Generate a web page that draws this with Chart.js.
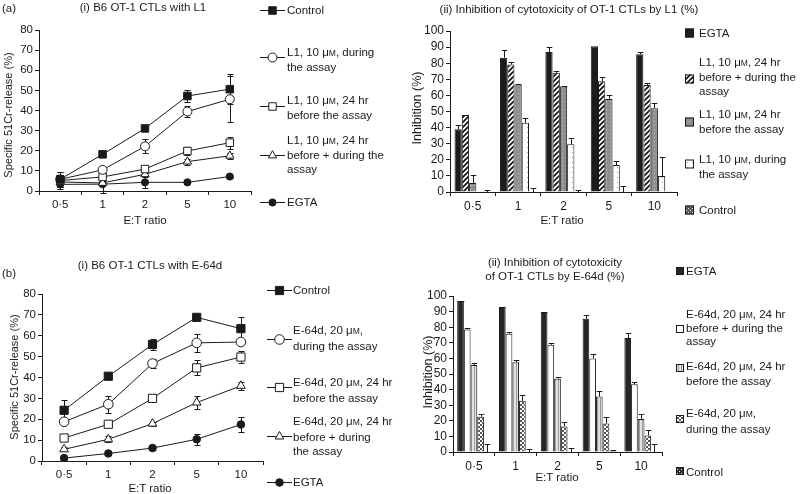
<!DOCTYPE html>
<html lang="en">
<head>
<meta charset="UTF-8">
<title>OT-1 CTL cytotoxicity</title>
<script src="https://cdn.jsdelivr.net/npm/chart.js@4"></script>
<style>
  body { margin: 0; background: #fff; }
  #fig { position: relative; width: 800px; height: 494px; overflow: hidden;
         font-family: 'Liberation Sans', Arial, Helvetica, sans-serif; color: #1a1a1a; }
  #fig canvas { position: absolute; }
  .t { position: absolute; white-space: nowrap; font-size: 11.5px; line-height: 14px; }
  .c { transform: translateX(-50%); text-align: center; }
  .v { transform: translate(-50%, -50%) rotate(-90deg); }
  .b .t { line-height: 14.5px; }
  .sc { font-size: 8.5px; }
</style>
</head>
<body>
<div id="fig">
  <canvas id="legendIcons" width="800" height="494" style="left:0;top:0"></canvas>
  <canvas id="chartA1" width="262" height="200" style="left:0;top:20px"></canvas>
  <canvas id="chartA2" width="280" height="200" style="left:405px;top:20px"></canvas>
  <canvas id="chartB1" width="275" height="200" style="left:0;top:285px"></canvas>
  <canvas id="chartB2" width="270" height="185" style="left:405px;top:285px"></canvas>

  <!-- panel (a) texts -->
  <div class="t" style="left:2px;top:1px">(a)</div>
  <div class="t c" style="left:143px;top:0px">(i) B6 OT-1 CTLs with L1</div>
  <div class="t v" style="left:8px;top:115px;font-size:11px">Specific 51Cr-release (%)</div>
  <div class="t c" style="left:145px;top:213px;font-size:11.5px">E:T ratio</div>

  <div class="t" style="left:287px;top:3px">Control</div>
  <div class="t" style="left:287px;top:45px">L1, 10 μ<span class="sc">M</span>, during<br>the assay</div>
  <div class="t" style="left:287px;top:93px">L1, 10 μ<span class="sc">M</span>, 24 hr<br>before the assay</div>
  <div class="t" style="left:287px;top:133px">L1, 10 μ<span class="sc">M</span>, 24 hr<br>before + during the<br>assay</div>
  <div class="t" style="left:287px;top:195px">EGTA</div>

  <div class="t c" style="left:569px;top:2px">(ii) Inhibition of cytotoxicity of OT-1 CTLs by L1 (%)</div>
  <div class="t v" style="left:417px;top:108px;font-size:12.5px">Inhibition (%)</div>
  <div class="t c" style="left:562px;top:213px">E:T ratio</div>

  <div class="t" style="left:699px;top:26px">EGTA</div>
  <div class="t" style="left:699px;top:55px">L1, 10 μ<span class="sc">M</span>, 24 hr<br>before + during the<br>assay</div>
  <div class="t" style="left:699px;top:107px">L1, 10 μ<span class="sc">M</span>, 24 hr<br>before the assay</div>
  <div class="t" style="left:699px;top:152px">L1, 10 μ<span class="sc">M</span>, during<br>the assay</div>
  <div class="t" style="left:699px;top:203px">Control</div>

  <!-- panel (b) texts -->
  <div class="b">
    <div class="t" style="left:2px;top:266px">(b)</div>
    <div class="t c" style="left:150px;top:258px">(i) B6 OT-1 CTLs with E-64d</div>
    <div class="t v" style="left:14px;top:377px;font-size:11px">Specific 51Cr-release (%)</div>
    <div class="t c" style="left:150px;top:481px">E:T ratio</div>

    <div class="t" style="left:293px;top:283px">Control</div>
    <div class="t" style="left:293px;top:323px">E-64d, 20 μ<span class="sc">M</span>,<br>during the assay</div>
    <div class="t" style="left:293px;top:375px">E-64d, 20 μ<span class="sc">M</span>, 24 hr<br>before the assay</div>
    <div class="t" style="left:293px;top:414px">E-64d, 20 μ<span class="sc">M</span>, 24 hr<br>before + during<br>the assay</div>
    <div class="t" style="left:293px;top:475px">EGTA</div>

    <div class="t c" style="left:555px;top:255px;line-height:14px">(ii) Inhibition of cytotoxicity<br>of OT-1 CTLs by E-64d (%)</div>
    <div class="t v" style="left:428px;top:372px;font-size:12.5px">Inhibition (%)</div>
    <div class="t c" style="left:557px;top:470px">E:T ratio</div>

    <div class="t" style="left:686px;top:264px">EGTA</div>
    <div class="t" style="left:686px;top:308px;line-height:13px">E-64d, 20 μ<span class="sc">M</span>, 24 hr<br>before + during the<br>assay</div>
    <div class="t" style="left:686px;top:360px;line-height:13.5px">E-64d, 20 μ<span class="sc">M</span>, 24 hr<br>before the assay</div>
    <div class="t" style="left:686px;top:406px">E-64d, 20 μ<span class="sc">M</span>,<br>during the assay</div>
    <div class="t" style="left:686px;top:465px">Control</div>
  </div>
</div>

<script>
// ---- data ----
const ratios = ['0·5', '1', '2', '5', '10'];

// (a)(i) specific 51Cr release, L1
const a1Control    = [5.8, 18.2, 31.1, 47.2, 50.6];
const a1ControlErr = [3.8, 1, 1, 3, 7.5];
const a1During     = [5.8, 10.5, 22.2, 39.5, 45.6];
const a1DuringErr  = [3.8, 1.5, 3.5, 2.5, 11.5];
const a1Before     = [5.2, 7, 10.9, 19.9, 24];
const a1BeforeErr  = [2, 1.5, 1.5, 2, 3];
const a1Both       = [4.5, 4, 8.3, 14.6, 17.5];
const a1BothErr    = [1.5, 1, 1.5, 1.5, 1.5];
const a1Egta       = [3.3, 3.4, 4.3, 4.3, 7.2];
const a1EgtaErr    = [2.5, 4.5, 3, 0.5, 0.5];

// (a)(ii) inhibition, L1
const a2Egta       = [38.9, 83.4, 87, 90.5, 85.6];
const a2EgtaErr    = [2.7, 4.5, 3, 0, 1.5];
const a2Both       = [47.8, 79.2, 74, 68.8, 66.5];
const a2BothErr    = [0.3, 1.5, 1, 2.6, 1.3];
const a2Before     = [5.6, 66.8, 65.6, 57.8, 52];
const a2BeforeErr  = [5, 0.3, 0.3, 2.7, 3.3];
const a2During     = [0, 43, 29.6, 16.8, 10];
const a2DuringErr  = [0, 2.8, 3.7, 2.7, 12];
const a2Control    = [0, 0, 0, 0, 0.4];
const a2ControlErr = [1.2, 2.3, 1.5, 4, 0];

// (b)(i) specific 51Cr release, E-64d
const b1Control    = [24.3, 40.6, 55.8, 68.8, 63.4];
const b1ControlErr = [4.8, 1, 2.5, 1, 5.5];
const b1During     = [18.8, 27.2, 46.7, 56.6, 57];
const b1DuringErr  = [1, 4, 2, 4.3, 1];
const b1Before     = [11, 17.6, 30, 44.6, 49.8];
const b1BeforeErr  = [1, 1, 1, 3.6, 3];
const b1Both       = [5.6, 10.4, 17.9, 28, 36];
const b1BothErr    = [1, 1.5, 1, 3, 1.8];
const b1Egta       = [1.4, 3.6, 6.2, 10.4, 17.5];
const b1EgtaErr    = [0.5, 0.5, 0.8, 2.5, 3.5];

// (b)(ii) inhibition, E-64d
const b2Egta       = [96.8, 92.9, 89.7, 85.4, 73];
const b2EgtaErr    = [0.3, 0.3, 0.3, 2.2, 3];
const b2Both       = [78.5, 75.8, 68.7, 60, 43.4];
const b2BothErr    = [0.8, 1.3, 1.3, 2.8, 1.3];
const b2Before     = [55.8, 57.6, 47, 35.6, 21.2];
const b2BeforeErr  = [1, 1.5, 0.8, 3.7, 3.2];
const b2During     = [22.6, 32.8, 16.3, 18.2, 10.6];
const b2DuringErr  = [1.5, 4, 3.2, 4.3, 3.6];
const b2Control    = [0, 0, 0, 1, 0];
const b2ControlErr = [5.3, 2, 2.7, 0.3, 5.3];

// ---- setup ----
const INK = '#1a1a1a';
Chart.defaults.font.family = "'Liberation Sans', Arial, Helvetica, sans-serif";
Chart.defaults.color = INK;
Chart.defaults.animation = false;
Chart.defaults.plugins.legend.display = false;
Chart.defaults.plugins.tooltip.enabled = false;

// fill patterns
function makePattern(size, draw) {
    const c = document.createElement('canvas');
    c.width = c.height = size;
    const g = c.getContext('2d');
    draw(g, size);
    return g.createPattern(c, 'repeat');
}
const hatchA = makePattern(5, (g, s) => {
    g.fillStyle = '#fff'; g.fillRect(0, 0, s, s);
    g.strokeStyle = '#111'; g.lineWidth = 1.7;
    g.beginPath();
    g.moveTo(0, s); g.lineTo(s, 0);
    g.moveTo(-1, 1); g.lineTo(1, -1);
    g.moveTo(s - 1, s + 1); g.lineTo(s + 1, s - 1);
    g.stroke();
});
const greyDotsA = makePattern(4, (g, s) => {
    g.fillStyle = '#8e8e8e'; g.fillRect(0, 0, s, s);
    g.fillStyle = '#c4c4c4'; g.fillRect(1, 1, 1, 1);
});
const whiteDotsA = makePattern(5, (g, s) => {
    g.fillStyle = '#fff'; g.fillRect(0, 0, s, s);
    g.fillStyle = '#a0a0a0'; g.fillRect(2, 2, 1, 1);
});
const controlA = makePattern(4, (g, s) => {
    g.fillStyle = '#5a5a5a'; g.fillRect(0, 0, s, s);
    g.fillStyle = '#e8e8e8'; g.fillRect(0, 0, 1, 1); g.fillRect(2, 2, 1, 1);
});
const vlinesB = makePattern(3, (g, s) => {
    g.fillStyle = '#e2e2e2'; g.fillRect(0, 0, s, s);
    g.fillStyle = '#9c9c9c'; g.fillRect(0, 0, 1, s);
});
const crossB = makePattern(4, (g, s) => {
    g.fillStyle = '#fff'; g.fillRect(0, 0, s, s);
    g.strokeStyle = '#555'; g.lineWidth = 1;
    g.beginPath();
    g.moveTo(0, 0); g.lineTo(s, s);
    g.moveTo(0, s); g.lineTo(s, 0);
    g.stroke();
});
const controlB = makePattern(4, (g, s) => {
    g.fillStyle = '#333'; g.fillRect(0, 0, s, s);
    g.fillStyle = '#ddd'; g.fillRect(1, 1, 1, 1); g.fillRect(3, 3, 1, 1);
});

// error bars: symmetric behind line markers, upward only on bars
const errorBars = {
    id: 'errorBars',
    beforeDatasetsDraw(chart) { if (chart.config.type === 'line') drawErrors(chart, true); },
    afterDatasetsDraw(chart) { if (chart.config.type === 'bar') drawErrors(chart, false); }
};
function drawErrors(chart, both) {
    const ctx = chart.ctx;
    const y = chart.scales.y;
    const cap = both ? 3 : 2.8;
    ctx.save();
    ctx.strokeStyle = INK;
    ctx.lineWidth = 1;
    chart.data.datasets.forEach((ds, i) => {
        if (!ds.errors) return;
        chart.getDatasetMeta(i).data.forEach((el, j) => {
            const e = ds.errors[j];
            if (!e) return;
            const v = ds.data[j];
            const x = Math.round(el.x) + 0.5;
            const top = Math.round(y.getPixelForValue(v + e)) + 0.5;
            const bot = both ? Math.round(y.getPixelForValue(v - e)) + 0.5 : el.y;
            ctx.beginPath();
            ctx.moveTo(x, bot); ctx.lineTo(x, top);
            ctx.moveTo(x - cap, top); ctx.lineTo(x + cap, top);
            if (both) { ctx.moveTo(x - cap, bot); ctx.lineTo(x + cap, bot); }
            ctx.stroke();
        });
    });
    ctx.restore();
}

// canvas box [left, top, w, h] and wanted chart area [L, T, R, B], page coords
function frame(box, area, yMax, fontSize) {
    const grid = { offset: true, drawOnChartArea: false, color: INK, tickLength: 4, lineWidth: 1 };
    return {
        layout: { padding: { left: 0, top: area[1] - box[1], right: box[0] + box[2] - area[2], bottom: 0 } },
        scales: {
            x: {
                offset: true,
                grid: grid,
                border: { color: INK, width: 1 },
                ticks: { font: { size: fontSize }, color: INK, padding: 3, maxRotation: 0 },
                afterFit: s => { s.height = box[1] + box[3] - area[3]; }
            },
            y: {
                min: 0, max: yMax,
                grid: { drawOnChartArea: false, color: INK, tickLength: 4 },
                border: { color: INK, width: 1 },
                ticks: { stepSize: 10, maxTicksLimit: 20, font: { size: fontSize, lineHeight: 1 }, color: INK, padding: 2 },
                afterFit: s => { s.width = area[0] - box[0]; }
            }
        }
    };
}

function lineSet(data, errs, style, fill, r) {
    return {
        data: data, errors: errs,
        borderColor: INK, borderWidth: 1, tension: 0,
        pointStyle: style, pointRadius: r, pointBorderWidth: 1,
        pointBorderColor: INK, pointBackgroundColor: fill
    };
}
function barSet(data, errs, fill) {
    return { data: data, errors: errs, backgroundColor: fill, borderColor: INK, borderWidth: 1 };
}

function lineChart(id, box, area, yMax, sets, fontSize) {
    new Chart(document.getElementById(id), {
        type: 'line',
        data: { labels: ratios, datasets: sets },
        options: Object.assign({ responsive: false, devicePixelRatio: 1 }, frame(box, area, yMax, fontSize)),
        plugins: [errorBars]
    });
}
function barChart(id, box, area, sets, fontSize) {
    const opts = Object.assign({ responsive: false, devicePixelRatio: 1 }, frame(box, area, 100, fontSize));
    opts.datasets = { bar: { categoryPercentage: 0.8, barPercentage: 1 } };
    new Chart(document.getElementById(id), {
        type: 'bar',
        data: { labels: ratios, datasets: sets },
        options: opts,
        plugins: [errorBars]
    });
}

// (a)(i)
lineChart('chartA1', [0, 20, 262, 200], [39, 30, 251, 191], 80, [
    lineSet(a1Control, a1ControlErr, 'rect', INK, 5.3),
    lineSet(a1During, a1DuringErr, 'circle', '#fff', 4.5),
    lineSet(a1Before, a1BeforeErr, 'rect', '#fff', 5.3),
    lineSet(a1Both, a1BothErr, 'triangle', '#fff', 4.8),
    lineSet(a1Egta, a1EgtaErr, 'circle', INK, 3.6)
], 11.5);

// (a)(ii)
barChart('chartA2', [405, 20, 280, 200], [450, 31, 677, 192], [
    barSet(a2Egta, a2EgtaErr, '#1c1c1c'),
    barSet(a2Both, a2BothErr, hatchA),
    barSet(a2Before, a2BeforeErr, greyDotsA),
    barSet(a2During, a2DuringErr, whiteDotsA),
    barSet(a2Control, a2ControlErr, controlA)
], 12);

// (b)(i)
lineChart('chartB1', [0, 285, 275, 200], [42, 294, 263, 461], 80, [
    lineSet(b1Control, b1ControlErr, 'rect', INK, 5.8),
    lineSet(b1During, b1DuringErr, 'circle', '#fff', 4.8),
    lineSet(b1Before, b1BeforeErr, 'rect', '#fff', 5.8),
    lineSet(b1Both, b1BothErr, 'triangle', '#fff', 5),
    lineSet(b1Egta, b1EgtaErr, 'circle', INK, 3.8)
], 11.5);

// (b)(ii)
barChart('chartB2', [405, 285, 270, 185], [453, 296, 662, 452], [
    barSet(b2Egta, b2EgtaErr, '#262626'),
    barSet(b2Both, b2BothErr, '#fff'),
    barSet(b2Before, b2BeforeErr, vlinesB),
    barSet(b2During, b2DuringErr, crossB),
    barSet(b2Control, b2ControlErr, controlB)
], 12);

// ---- legend icons ----
const lg = document.getElementById('legendIcons').getContext('2d');
function marker(style, x, y, r, fill) {
    lg.beginPath();
    if (style === 'rect') {
        const s = r * Math.SQRT1_2;
        lg.rect(x - s, y - s, 2 * s, 2 * s);
    } else if (style === 'triangle') {
        for (let k = 0; k < 3; k++) {
            const a = k * 2 * Math.PI / 3;
            const px = x + Math.sin(a) * r, py = y - Math.cos(a) * r;
            if (k === 0) lg.moveTo(px, py); else lg.lineTo(px, py);
        }
        lg.closePath();
    } else {
        lg.arc(x, y, r, 0, Math.PI * 2);
    }
    lg.fillStyle = fill; lg.fill();
    lg.strokeStyle = INK; lg.lineWidth = 1; lg.stroke();
}
function lineKey(x0, x1, y, style, fill, r) {
    lg.beginPath();
    lg.moveTo(x0, y + 0.5); lg.lineTo(x1, y + 0.5);
    lg.strokeStyle = INK; lg.lineWidth = 1; lg.stroke();
    marker(style, (x0 + x1) / 2, y + 0.5, r, fill);
}
function swatch(x, y, s, fill) {
    lg.fillStyle = fill;
    lg.fillRect(x, y - s / 2, s, s);
    lg.strokeStyle = INK; lg.lineWidth = 1;
    lg.strokeRect(x + 0.5, y - s / 2 + 0.5, s - 1, s - 1);
}

lineKey(260, 285, 10, 'rect', INK, 5.3);
lineKey(260, 285, 57, 'circle', '#fff', 4.5);
lineKey(260, 285, 106, 'rect', '#fff', 5.3);
lineKey(260, 285, 155, 'triangle', '#fff', 4.8);
lineKey(260, 285, 202, 'circle', INK, 3.6);

swatch(685, 33, 9, '#1c1c1c');
swatch(685, 79, 9, hatchA);
swatch(685, 122, 9, greyDotsA);
swatch(685, 164, 9, whiteDotsA);
swatch(685, 210, 9, controlA);

lineKey(267, 292, 290, 'rect', INK, 5.8);
lineKey(267, 292, 339, 'circle', '#fff', 4.8);
lineKey(267, 292, 387, 'rect', '#fff', 5.8);
lineKey(267, 292, 436, 'triangle', '#fff', 5);
lineKey(267, 292, 482, 'circle', INK, 3.8);

swatch(676, 271, 8, '#262626');
swatch(676, 329, 8, '#fff');
swatch(676, 368, 8, vlinesB);
swatch(676, 419, 8, crossB);
swatch(676, 471, 8, controlB);
</script>
</body>
</html>
